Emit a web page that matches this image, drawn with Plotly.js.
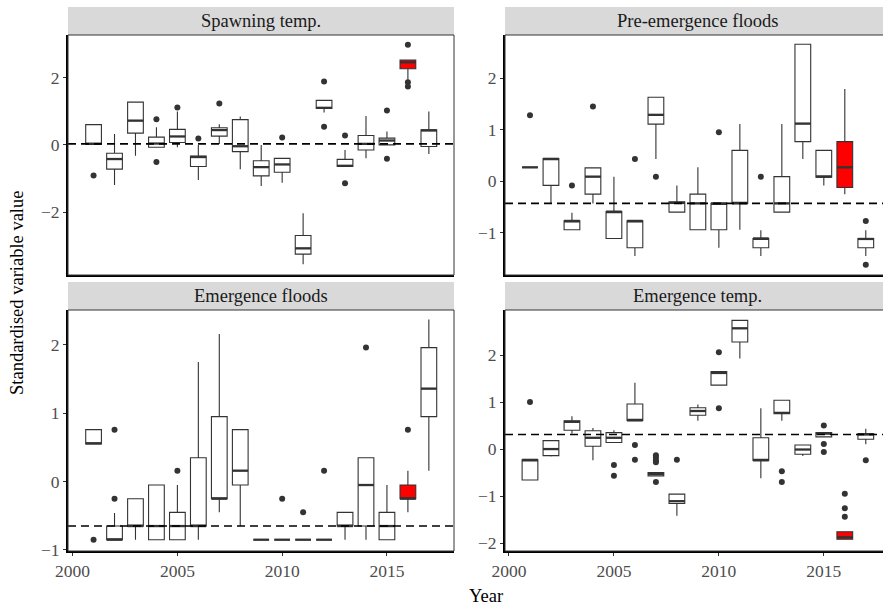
<!DOCTYPE html>
<html>
<head>
<meta charset="utf-8">
<script src="https://cdn.plot.ly/plotly-3.0.1.min.js"></script>
<style>
  html, body { margin: 0; padding: 0; background: #fff; }
  #chart { width: 883px; height: 606px; }
</style>
</head>
<body>
<div id="chart"></div>
<script>
// Survey years (one box per year) and the year shown in red
const years = [2001, 2002, 2003, 2004, 2005, 2006, 2007, 2008, 2009, 2010, 2011, 2012, 2013, 2014, 2015, 2016, 2017];
const highlightYear = 2016;
const xTicks = [2000, 2005, 2010, 2015];

// Spawning temp.
const spawnLo  = [0.02, -1.19, -0.32, -0.07, -0.07, -1.04, 0.03, -0.72, -1.22, -1.12, -3.54, 0.96, -0.64, -0.40, 0.00, 1.93, -0.27];
const spawnQ1  = [0.02, -0.72, 0.35, -0.07, 0.07, -0.64, 0.26, -0.20, -0.92, -0.81, -3.24, 1.08, -0.64, -0.15, 0.00, 2.26, -0.05];
const spawnMed = [0.03, -0.42, 0.72, 0.04, 0.25, -0.36, 0.44, -0.04, -0.66, -0.58, -3.07, 1.10, -0.62, 0.03, 0.13, 2.45, 0.43];
const spawnQ3  = [0.60, -0.25, 1.27, 0.23, 0.46, -0.33, 0.51, 0.75, -0.47, -0.40, -2.69, 1.32, -0.43, 0.28, 0.20, 2.52, 0.45];
const spawnHi  = [0.60, 0.32, 1.27, 0.52, 0.99, 0.00, 0.61, 0.84, 0.00, -0.40, -2.03, 1.32, -0.15, 0.86, 0.40, 2.52, 0.99];
const spawnOutYear = [2001, 2004, 2004, 2005, 2006, 2007, 2010, 2012, 2012, 2013, 2013, 2015, 2015, 2016, 2016, 2016];
const spawnOutVal  = [-0.91, 0.76, -0.51, 1.11, 0.19, 1.23, 0.22, 1.88, 0.54, 0.28, -1.14, 1.02, -0.41, 2.97, 1.86, 1.73];
const spawnRef = 0.03;

// Pre-emergence floods
const preLo  = [0.27, -0.43, -0.94, -0.43, -1.11, -1.45, 0.43, -0.60, -0.94, -1.29, -0.94, -1.45, -0.60, 0.43, -0.08, -0.25, -1.45];
const preQ1  = [0.27, -0.08, -0.94, -0.25, -1.11, -1.29, 1.11, -0.60, -0.94, -0.94, -0.43, -1.29, -0.60, 0.77, 0.08, -0.12, -1.29];
const preMed = [0.27, 0.435, -0.77, 0.09, -0.59, -0.77, 1.29, -0.42, -0.43, -0.43, -0.43, -1.11, -0.43, 1.12, 0.09, 0.27, -1.12];
const preQ3  = [0.27, 0.44, -0.77, 0.26, -0.59, -0.77, 1.63, -0.40, -0.25, -0.43, 0.60, -1.11, 0.09, 2.66, 0.60, 0.77, -1.11];
const preHi  = [0.27, 0.44, -0.61, 0.26, 0.09, -0.77, 1.63, -0.08, 0.27, -0.43, 1.11, -0.95, 1.11, 2.66, 0.60, 1.79, -0.95];
const preOutYear = [2001, 2003, 2004, 2006, 2007, 2010, 2012, 2017, 2017];
const preOutVal  = [1.28, -0.08, 1.45, 0.43, 0.09, 0.95, 0.09, -0.77, -1.62];
const preRef = -0.43;

// Emergence floods
const emfLo  = [0.55, -0.85, -0.85, -0.85, -0.85, -0.85, -0.45, -0.65, -0.85, -0.85, -0.85, -0.85, -0.85, -0.85, -0.85, -0.45, 0.16];
const emfQ1  = [0.55, -0.85, -0.65, -0.85, -0.85, -0.65, -0.25, -0.05, -0.85, -0.85, -0.85, -0.85, -0.65, -0.65, -0.85, -0.25, 0.95];
const emfMed = [0.56, -0.85, -0.65, -0.65, -0.65, -0.65, -0.25, 0.16, -0.85, -0.85, -0.85, -0.85, -0.65, -0.05, -0.65, -0.25, 1.36];
const emfQ3  = [0.76, -0.65, -0.25, -0.05, -0.45, 0.35, 0.95, 0.76, -0.85, -0.85, -0.85, -0.85, -0.45, 0.35, -0.45, -0.05, 1.96];
const emfHi  = [0.76, -0.46, -0.25, -0.05, -0.05, 1.75, 2.16, 0.76, -0.85, -0.85, -0.85, -0.85, -0.45, 0.35, -0.05, 0.16, 2.37];
const emfOutYear = [2001, 2002, 2002, 2005, 2010, 2011, 2012, 2014, 2016];
const emfOutVal  = [-0.85, -0.25, 0.76, 0.16, -0.25, -0.45, 0.16, 1.96, 0.76];
const emfRef = -0.65;

// Emergence temp.
const emtLo  = [-0.66, -0.16, 0.33, -0.24, 0.14, 0.61, -0.57, -1.42, 0.60, 1.36, 1.93, -0.62, 0.60, -0.15, 0.26, -1.92, 0.10];
const emtQ1  = [-0.66, -0.14, 0.40, 0.06, 0.14, 0.61, -0.57, -1.16, 0.72, 1.36, 2.28, -0.24, 0.75, -0.11, 0.26, -1.92, 0.21];
const emtMed = [-0.23, 0.00, 0.58, 0.24, 0.24, 0.61, -0.53, -1.11, 0.81, 1.62, 2.57, -0.24, 0.77, -0.01, 0.33, -1.88, 0.31];
const emtQ3  = [-0.23, 0.18, 0.60, 0.39, 0.35, 0.96, -0.50, -0.96, 0.88, 1.65, 2.74, 0.24, 1.04, 0.085, 0.35, -1.76, 0.33];
const emtHi  = [-0.23, 0.18, 0.70, 0.45, 0.40, 1.41, -0.50, -0.96, 0.95, 1.65, 2.74, 0.87, 1.04, 0.085, 0.35, -1.76, 0.43];
const emtOutYear = [2001, 2005, 2005, 2006, 2006, 2007, 2007, 2007, 2007, 2007, 2008, 2010, 2010, 2013, 2013, 2015, 2015, 2015, 2016, 2016, 2016, 2017];
const emtOutVal  = [1.00, -0.34, -0.57, 0.085, -0.23, -0.13, -0.18, -0.24, -0.28, -0.70, -0.23, 2.06, 0.87, -0.47, -0.70, 0.50, 0.11, -0.06, -0.95, -1.26, -1.44, -0.24];
const emtRef = 0.31;

// Panel titles
const panelTitles = ['Spawning temp.', 'Pre-emergence floods', 'Emergence floods', 'Emergence temp.'];

const W = 883, H = 606;
const BOX_W = 0.75;
const INK = '#333333';
const SERIF = '"Liberation Serif", "Times New Roman", serif';

// pixel frame of each panel -> paper fractions
const px = v => v / W;
const py = v => 1 - v / H;
const colL = [px(68), px(454)];
const colR = [px(505), 1];
const rowT = [py(275), py(35)];
const rowB = [py(551), py(310)];

const panels = [
  { lo: spawnLo, q1: spawnQ1, med: spawnMed, q3: spawnQ3, hi: spawnHi, outX: spawnOutYear, outY: spawnOutVal, ref: spawnRef, xa: 'x',  ya: 'y',  xd: colL, yd: rowT },
  { lo: preLo,   q1: preQ1,   med: preMed,   q3: preQ3,   hi: preHi,   outX: preOutYear,   outY: preOutVal,   ref: preRef,   xa: 'x2', ya: 'y2', xd: colR, yd: rowT },
  { lo: emfLo,   q1: emfQ1,   med: emfMed,   q3: emfQ3,   hi: emfHi,   outX: emfOutYear,   outY: emfOutVal,   ref: emfRef,   xa: 'x3', ya: 'y3', xd: colL, yd: rowB },
  { lo: emtLo,   q1: emtQ1,   med: emtMed,   q3: emtQ3,   hi: emtHi,   outX: emtOutYear,   outY: emtOutVal,   ref: emtRef,   xa: 'x4', ya: 'y4', xd: colR, yd: rowB }
];

const traces = [];
const shapes = [];
const annotations = [];

panels.forEach((p, k) => {
  // split boxes into plain and highlighted groups (fill colour is per trace)
  [false, true].forEach(isHi => {
    const idx = years.map((y, i) => i).filter(i => (years[i] === highlightYear) === isHi);
    if (!idx.length) return;
    const pick = arr => idx.map(i => arr[i]);
    traces.push({
      type: 'box',
      x: pick(years),
      q1: pick(p.q1), median: pick(p.med), q3: pick(p.q3),
      lowerfence: pick(p.lo), upperfence: pick(p.hi),
      width: BOX_W,
      whiskerwidth: 0,
      boxpoints: false,
      fillcolor: isHi ? '#FF0000' : '#FFFFFF',
      line: { color: INK, width: 1.1 },
      xaxis: p.xa, yaxis: p.ya,
      hoverinfo: 'skip', showlegend: false
    });
  });

  // heavier median bars
  const mx = [], my = [];
  years.forEach((y, i) => {
    mx.push(y - BOX_W / 2, y + BOX_W / 2, null);
    my.push(p.med[i], p.med[i], null);
  });
  traces.push({
    type: 'scatter', mode: 'lines', x: mx, y: my,
    line: { color: INK, width: 2.3 },
    xaxis: p.xa, yaxis: p.ya, hoverinfo: 'skip', showlegend: false
  });

  // outlying points
  traces.push({
    type: 'scatter', mode: 'markers', x: p.outX, y: p.outY,
    marker: { color: INK, size: 6 },
    xaxis: p.xa, yaxis: p.ya, hoverinfo: 'skip', showlegend: false
  });

  const xdom = p.xa === 'x' ? 'x domain' : p.xa + ' domain';
  const ydom = p.ya === 'y' ? 'y domain' : p.ya + ' domain';
  const isRightCol = p.xd === colR;

  // dashed reference level
  shapes.push({
    type: 'line', xref: xdom, yref: p.ya, x0: 0, x1: 1, y0: p.ref, y1: p.ref,
    line: { color: '#000000', width: 1.6, dash: '8px,5px' }, layer: 'above'
  });

  // thin panel frame (right column runs off the page edge)
  shapes.push({
    type: 'rect', xref: xdom, yref: ydom, x0: 0, x1: isRightCol ? 1.05 : 1, y0: 0, y1: 1,
    line: { color: INK, width: 1 }, fillcolor: 'rgba(0,0,0,0)', layer: 'above'
  });

  // strip header
  const stripTop = p.yd === rowT ? py(7) : py(282);
  shapes.push({
    type: 'rect', xref: 'paper', yref: 'paper',
    x0: p.xd[0], x1: p.xd[1], y0: p.yd[1], y1: stripTop,
    line: { width: 0 }, fillcolor: '#D9D9D9', layer: 'below'
  });
  annotations.push({
    xref: 'paper', yref: 'paper',
    x: (p.xd[0] + (isRightCol ? px(891) : p.xd[1])) / 2,
    y: (p.yd[1] + stripTop) / 2,
    text: panelTitles[k], showarrow: false,
    xanchor: 'center', yanchor: 'middle',
    font: { family: SERIF, size: 18.5, color: '#1A1A1A' }
  });
});

annotations.push({
  xref: 'paper', yref: 'paper', x: px(486), y: py(596),
  text: 'Year', showarrow: false, xanchor: 'center', yanchor: 'middle',
  font: { family: SERIF, size: 18.5, color: '#000000' }
});
annotations.push({
  xref: 'paper', yref: 'paper', x: px(17), y: py(293),
  text: 'Standardised variable value', showarrow: false, textangle: -90,
  xanchor: 'center', yanchor: 'middle',
  font: { family: SERIF, size: 18.5, color: '#000000' }
});

const tickFont = { family: SERIF, size: 17.5, color: '#4D4D4D' };

function xAxis(domain, anchor, range, labels) {
  return {
    domain, anchor, range,
    tickmode: 'array', tickvals: xTicks,
    showticklabels: labels,
    ticks: labels ? 'outside' : '', ticklen: 3, tickwidth: 1, tickcolor: INK,
    tickfont: tickFont,
    showline: true, linecolor: '#000000', linewidth: 2,
    showgrid: false, zeroline: false, fixedrange: true
  };
}
function yAxis(domain, anchor, range, ticks) {
  return {
    domain, anchor, range,
    tickmode: 'array', tickvals: ticks,
    ticks: 'outside', ticklen: 3, tickwidth: 1, tickcolor: INK,
    tickfont: tickFont,
    showline: true, linecolor: '#000000', linewidth: 2,
    showgrid: false, zeroline: false, fixedrange: true
  };
}

const xRangeL = [1999.78, 2018.2];
const xRangeR = [1999.81, 2017.82];

const layout = {
  width: W, height: H,
  margin: { l: 0, r: 0, t: 0, b: 0, pad: 0 },
  paper_bgcolor: '#FFFFFF', plot_bgcolor: '#FFFFFF',
  boxmode: 'overlay',
  showlegend: false,
  font: { family: SERIF },
  xaxis:  xAxis(colL, 'y',  xRangeL, false),
  xaxis2: xAxis(colR, 'y2', xRangeR, false),
  xaxis3: xAxis(colL, 'y3', xRangeL, true),
  xaxis4: xAxis(colR, 'y4', xRangeR, true),
  yaxis:  yAxis(rowT, 'x',  [-3.86, 3.26], [-2, 0, 2]),
  yaxis2: yAxis(rowT, 'x2', [-1.82, 2.84], [-1, 0, 1, 2]),
  yaxis3: yAxis(rowB, 'x3', [-1.015, 2.51], [-1, 0, 1, 2]),
  yaxis4: yAxis(rowB, 'x4', [-2.17, 2.96], [-2, -1, 0, 1, 2]),
  shapes, annotations
};

Plotly.newPlot('chart', traces, layout, { staticPlot: true, displayModeBar: false });
</script>
</body>
</html>
